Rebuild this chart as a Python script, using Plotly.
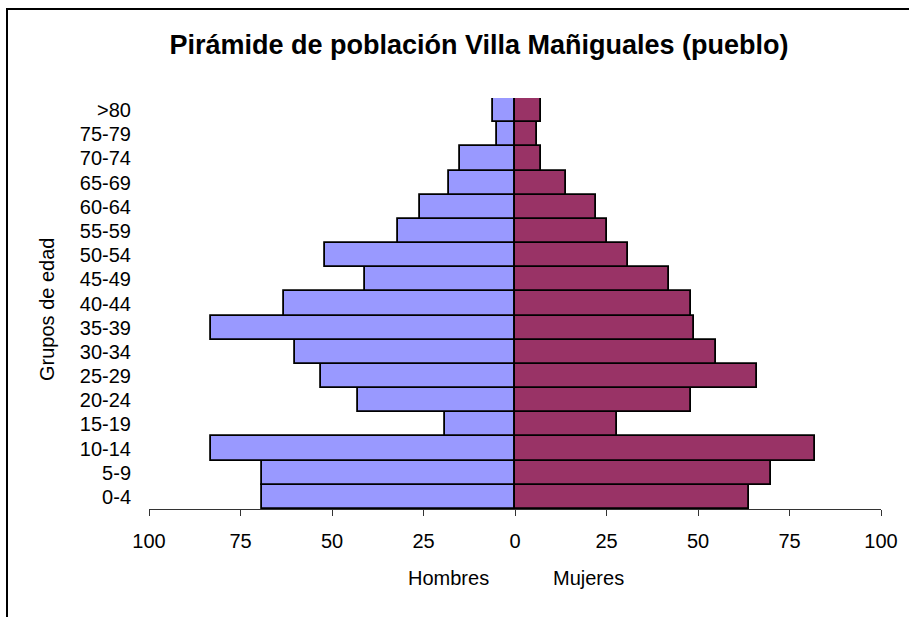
import plotly.graph_objects as go

grupos = ["0-4", "5-9", "10-14", "15-19", "20-24", "25-29", "30-34", "35-39",
          "40-44", "45-49", "50-54", "55-59", "60-64", "65-69", "70-74", "75-79", ">80"]
hombres = [69, 69, 83, 19, 43, 53, 60, 83, 63, 41, 52, 32, 26, 18, 15, 5, 6]
mujeres = [64, 70, 82, 28, 48, 66, 55, 49, 48, 42, 31, 25, 22, 14, 7, 6, 7]
tick_vals = [-100, -75, -50, -25, 0, 25, 50, 75, 100]
tick_text = ["100", "75", "50", "25", "0", "25", "50", "75", "100"]

FONT = "Liberation Sans, Arial, sans-serif"

fig = go.Figure()
fig.add_trace(go.Bar(
    y=grupos, x=[-v for v in hombres], orientation="h", name="Hombres",
    marker=dict(color="#9999FF", line=dict(color="black", width=1.8)),
))
fig.add_trace(go.Bar(
    y=grupos, x=mujeres, orientation="h", name="Mujeres",
    marker=dict(color="#993366", line=dict(color="black", width=1.8)),
))

L, R, T, B = 149, 28, 98, 108
W, H = 909, 617
pw, ph = W - L - R, H - T - B

fig.update_layout(
    width=W, height=H,
    margin=dict(l=L, r=R, t=T, b=B),
    barmode="relative", bargap=0,
    plot_bgcolor="white", paper_bgcolor="white",
    showlegend=False,
    font=dict(family=FONT, size=20, color="black"),
    title=dict(text="<b>Pirámide de población Villa Mañiguales (pueblo)</b>",
               x=479 / W, xanchor="center", y=1 - 45 / H, yanchor="middle",
               font=dict(family=FONT, size=27, color="black")),
    xaxis=dict(range=[-100, 100], tickvals=tick_vals, ticktext=tick_text,
               showgrid=False, zeroline=False, showline=True, linecolor="#333333",
               linewidth=1, ticks="outside", ticklen=6, tickcolor="#333333",
               ticklabelstandoff=8, tickfont=dict(size=20), fixedrange=True),
    yaxis=dict(showgrid=False, zeroline=False, showline=False, ticks="",
               ticklabelstandoff=17, tickfont=dict(size=20),
               categoryorder="array", categoryarray=grupos),
)

def px(xp):
    return (xp - L) / pw

def py(yp):
    return (H - B - yp) / ph

fig.add_shape(type="rect", xref="paper", yref="paper",
              x0=px(7), y0=py(700), x1=px(1000), y1=py(9),
              line=dict(color="black", width=2), fillcolor="rgba(0,0,0,0)", layer="below")

fig.add_annotation(text="Grupos de edad", xref="paper", yref="paper",
                   x=px(47), y=py(310), textangle=-90, showarrow=False,
                   xanchor="center", yanchor="middle", font=dict(size=20))
fig.add_annotation(text="Hombres", xref="paper", yref="paper",
                   x=px(448), y=py(578), showarrow=False,
                   xanchor="center", yanchor="middle", font=dict(size=20))
fig.add_annotation(text="Mujeres", xref="paper", yref="paper",
                   x=px(588), y=py(578), showarrow=False,
                   xanchor="center", yanchor="middle", font=dict(size=20))

fig.write_html("out.html", config={"displayModeBar": False},
               post_script="document.body.style.margin='0';document.body.style.overflow='hidden';")
